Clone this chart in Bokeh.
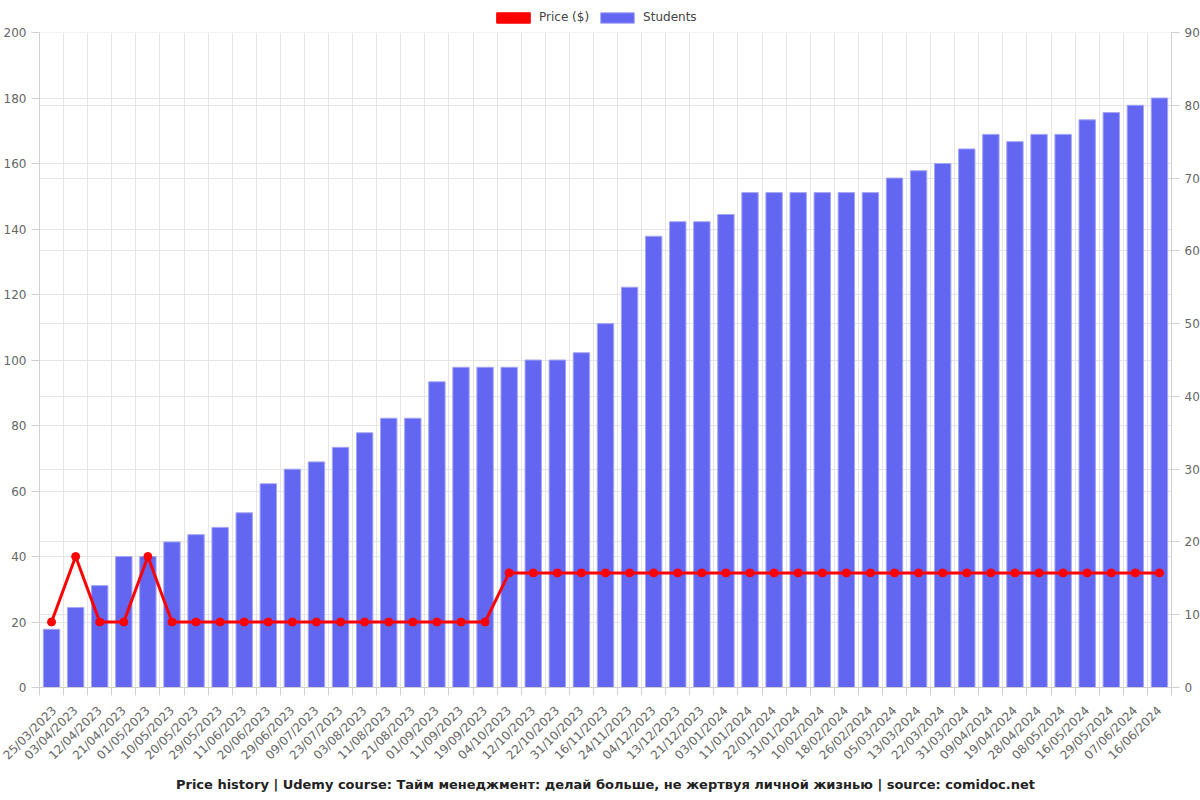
import math
from bokeh.plotting import figure
from bokeh.models import (Range1d, LinearAxis, FixedTicker, Grid, Legend,
                          LegendItem, ColumnDataSource, Title, BoxAnnotation)
from bokeh.embed import file_html
from bokeh.resources import INLINE

dates = ["25/03/2023", "03/04/2023", "12/04/2023", "21/04/2023", "01/05/2023",
         "10/05/2023", "20/05/2023", "29/05/2023", "11/06/2023", "20/06/2023",
         "29/06/2023", "09/07/2023", "23/07/2023", "03/08/2023", "11/08/2023",
         "21/08/2023", "01/09/2023", "11/09/2023", "19/09/2023", "04/10/2023",
         "12/10/2023", "22/10/2023", "31/10/2023", "16/11/2023", "24/11/2023",
         "04/12/2023", "13/12/2023", "21/12/2023", "03/01/2024", "11/01/2024",
         "22/01/2024", "31/01/2024", "10/02/2024", "18/02/2024", "26/02/2024",
         "05/03/2024", "13/03/2024", "22/03/2024", "31/03/2024", "09/04/2024",
         "19/04/2024", "28/04/2024", "08/05/2024", "16/05/2024", "29/05/2024",
         "07/06/2024", "16/06/2024"]

students = [8, 11, 14, 18, 18, 20, 21, 22, 24, 28,
            30, 31, 33, 35, 37, 37, 42, 44, 44, 44,
            45, 45, 46, 50, 55, 62, 64, 64, 65, 68,
            68, 68, 68, 68, 68, 70, 71, 72, 74, 76,
            75, 76, 76, 78, 79, 80, 81]

prices = [20, 40, 20, 20, 40, 20, 20, 20, 20, 20,
          20, 20, 20, 20, 20, 20, 20, 20, 20, 35,
          35, 35, 35, 35, 35, 35, 35, 35, 35, 35,
          35, 35, 35, 35, 35, 35, 35, 35, 35, 35,
          35, 35, 35, 35, 35, 35, 35]

price_ticks = list(range(0, 201, 20))
student_ticks = list(range(0, 91, 10))
price_max = 200
student_max = 90

title_text = ("Price history | Udemy course: Тайм менеджмент: делай больше, "
              "не жертвуя личной жизнью | source: comidoc.net")

FONT = "DejaVu Sans"
GRID = "#e5e5e5"
AXIS = "#d0d0d0"
LABEL = "#666666"

# layout: the plotting area is 655px tall; a 24px strip above it holds the legend
PLOT_H = 655
LEGEND_H = 24
FRAME_H = PLOT_H + LEGEND_H
scale = FRAME_H / PLOT_H

n = len(dates)
xs = list(range(n))
src = ColumnDataSource(dict(x=xs, students=students, prices=prices))

p = figure(frame_width=1132, frame_height=FRAME_H, output_backend="svg",
           toolbar_location=None,
           x_range=Range1d(-0.5, n - 0.5),
           y_range=Range1d(0, price_max * scale),
           min_border_left=0, min_border_right=0, min_border_top=8,
           min_border_bottom=0)
p.outline_line_color = None
p.extra_y_ranges = {"students": Range1d(0, student_max * scale)}

bars = p.vbar(x="x", top="students", width=0.68, source=src,
              y_range_name="students", fill_color="#6366f1",
              line_color="#a3a5f7", line_width=1)
p.line(x="x", y="prices", source=src, line_color="#ff0000", line_width=3)
p.scatter(x="x", y="prices", source=src, size=8, fill_color="#ff0000",
          line_color="#ff0000")

# legend-only renderer (no visible data)
dummy = p.vbar(x=[float("nan")], top=[float("nan")], width=0.5,
               fill_color="#ff0000", line_color="#ff0000")

# grids
p.xgrid.ticker = FixedTicker(ticks=[i - 0.5 for i in range(n + 1)])
p.xgrid.grid_line_color = GRID
p.ygrid.ticker = FixedTicker(ticks=price_ticks)
p.ygrid.grid_line_color = GRID
p.add_layout(Grid(dimension=1, y_range_name="students",
                  ticker=FixedTicker(ticks=student_ticks),
                  grid_line_color=GRID))

# blank strip above the plotting area (legend area)
p.add_layout(BoxAnnotation(bottom=price_max, fill_color="white", fill_alpha=1,
                           line_color=None, level="glyph"))

# x axis
xa = p.xaxis[0]
xa.ticker = FixedTicker(ticks=xs, minor_ticks=[i - 0.5 for i in range(n + 1)])
xa.major_label_overrides = {i: d for i, d in enumerate(dates)}
xa.major_label_orientation = math.pi / 4
xa.major_label_standoff = 13
xa.major_tick_line_color = None
xa.minor_tick_line_color = AXIS
xa.minor_tick_in = 0
xa.minor_tick_out = 8
xa.axis_line_color = AXIS
xa.major_label_text_font = FONT
xa.major_label_text_font_size = "12px"
xa.major_label_text_color = LABEL

# left axis
ya = p.yaxis[0]
ya.ticker = FixedTicker(ticks=price_ticks)
ya.bounds = (0, price_max)
ya.minor_tick_line_color = None
ya.major_tick_in = 0
ya.major_tick_out = 8
ya.major_tick_line_color = AXIS
ya.axis_line_color = AXIS
ya.major_label_text_font = FONT
ya.major_label_text_font_size = "12px"
ya.major_label_text_color = LABEL

# right axis
ra = LinearAxis(y_range_name="students", ticker=FixedTicker(ticks=student_ticks),
                bounds=(0, student_max))
ra.minor_tick_line_color = None
ra.major_tick_in = 0
ra.major_tick_out = 8
ra.major_tick_line_color = AXIS
ra.axis_line_color = AXIS
ra.major_label_text_font = FONT
ra.major_label_text_font_size = "12px"
ra.major_label_text_color = LABEL
p.add_layout(ra, "right")

legend = Legend(items=[LegendItem(label="Price ($)", renderers=[dummy]),
                       LegendItem(label="Students", renderers=[bars])],
                orientation="horizontal", location=(453, PLOT_H + 8),
                border_line_color=None, background_fill_alpha=0,
                glyph_width=42, glyph_height=13, label_text_font=FONT,
                label_text_font_size="12px", label_text_color="#444444",
                padding=1, margin=0, spacing=7, label_standoff=5)
p.add_layout(legend, "center")

p.add_layout(Title(text=title_text, align="center", text_font=FONT,
                   text_font_style="bold", text_font_size="13px",
                   text_color="#222222", standoff=8), "below")

open("out.html", "w").write(file_html(p, INLINE))
